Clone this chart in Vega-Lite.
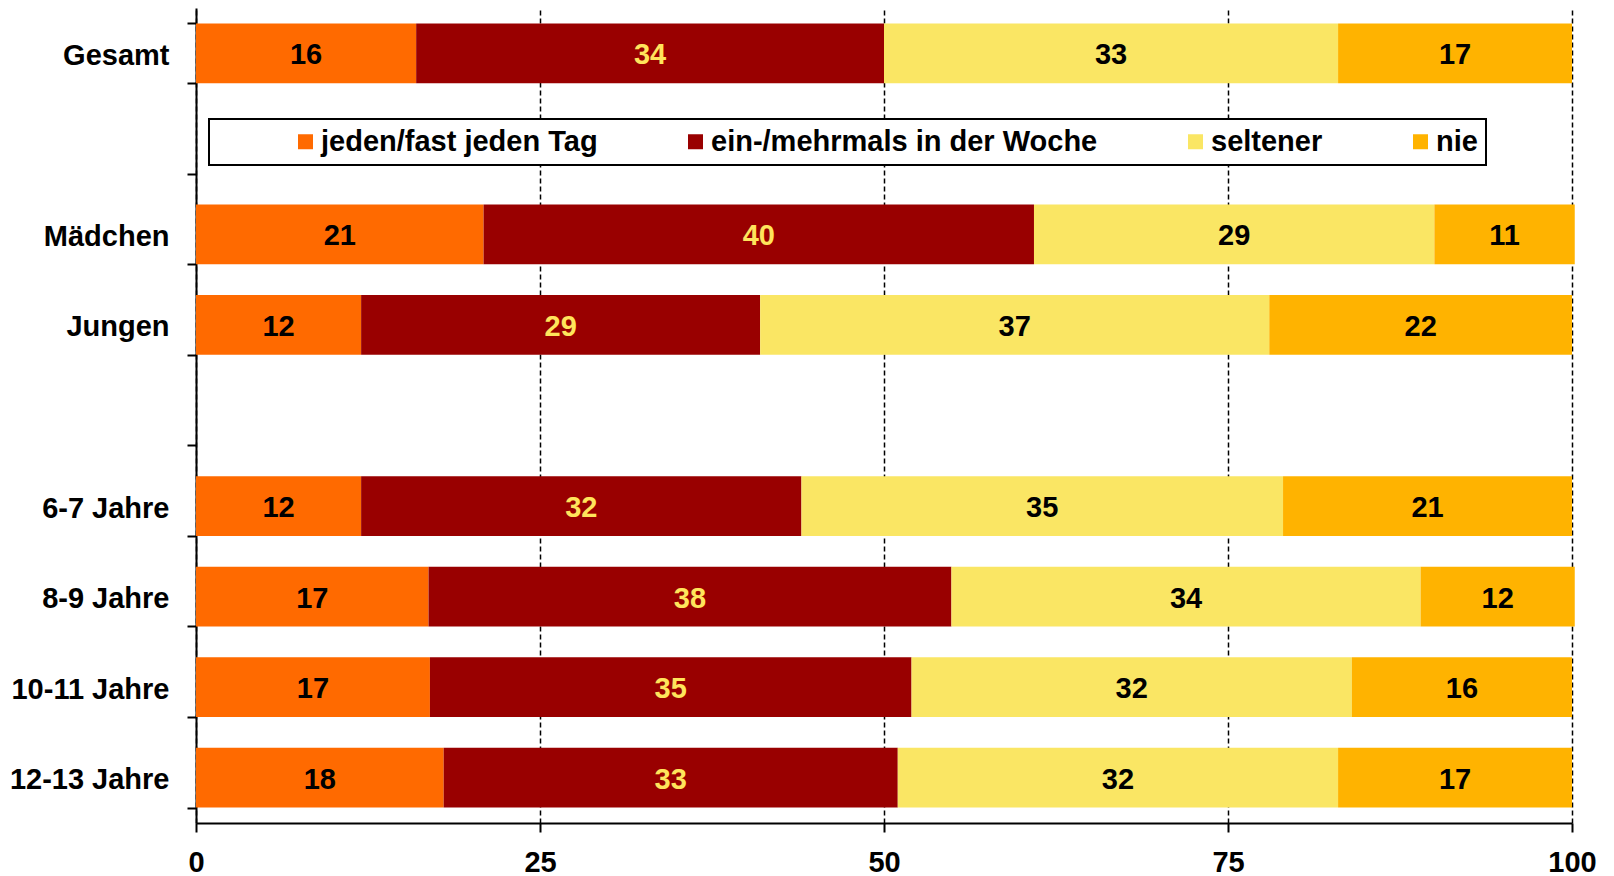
{
  "$schema": "https://vega.github.io/schema/vega-lite/v6.json",
  "width": 1376,
  "height": 815,
  "autosize": {"type": "none"},
  "padding": {"left": 196, "top": 8, "right": 42, "bottom": 53},
  "background": "white",
  "config": {
    "font": "Liberation Sans",
    "view": {"stroke": null},
    "axis": {
      "labelFont": "Liberation Sans",
      "labelFontWeight": "bold",
      "labelFontSize": 29,
      "labelColor": "black",
      "domainColor": "black",
      "domainWidth": 2,
      "tickColor": "black",
      "tickWidth": 2,
      "tickSize": 9,
      "title": null
    },
    "legend": {
      "strokeWidth": 2
    }
  },
  "datasets": {
    "antworten": [
      {"haeufigkeit": "jeden/fast jeden Tag", "rang": 1},
      {"haeufigkeit": "ein-/mehrmals in der Woche", "rang": 2},
      {"haeufigkeit": "seltener", "rang": 3},
      {"haeufigkeit": "nie", "rang": 4}
    ]
  },
  "data": {
    "values": [
      {"gruppe": "Gesamt", "haeufigkeit": "jeden/fast jeden Tag", "prozent": 16, "label": "16"},
      {"gruppe": "Gesamt", "haeufigkeit": "ein-/mehrmals in der Woche", "prozent": 34, "label": "34"},
      {"gruppe": "Gesamt", "haeufigkeit": "seltener", "prozent": 33, "label": "33"},
      {"gruppe": "Gesamt", "haeufigkeit": "nie", "prozent": 17, "label": "17"},
      {"gruppe": "Mädchen", "haeufigkeit": "jeden/fast jeden Tag", "prozent": 20.9, "label": "21"},
      {"gruppe": "Mädchen", "haeufigkeit": "ein-/mehrmals in der Woche", "prozent": 40, "label": "40"},
      {"gruppe": "Mädchen", "haeufigkeit": "seltener", "prozent": 29.1, "label": "29"},
      {"gruppe": "Mädchen", "haeufigkeit": "nie", "prozent": 10.2, "label": "11"},
      {"gruppe": "Jungen", "haeufigkeit": "jeden/fast jeden Tag", "prozent": 12, "label": "12"},
      {"gruppe": "Jungen", "haeufigkeit": "ein-/mehrmals in der Woche", "prozent": 29, "label": "29"},
      {"gruppe": "Jungen", "haeufigkeit": "seltener", "prozent": 37, "label": "37"},
      {"gruppe": "Jungen", "haeufigkeit": "nie", "prozent": 22, "label": "22"},
      {"gruppe": "6-7 Jahre", "haeufigkeit": "jeden/fast jeden Tag", "prozent": 12, "label": "12"},
      {"gruppe": "6-7 Jahre", "haeufigkeit": "ein-/mehrmals in der Woche", "prozent": 32, "label": "32"},
      {"gruppe": "6-7 Jahre", "haeufigkeit": "seltener", "prozent": 35, "label": "35"},
      {"gruppe": "6-7 Jahre", "haeufigkeit": "nie", "prozent": 21, "label": "21"},
      {"gruppe": "8-9 Jahre", "haeufigkeit": "jeden/fast jeden Tag", "prozent": 16.9, "label": "17"},
      {"gruppe": "8-9 Jahre", "haeufigkeit": "ein-/mehrmals in der Woche", "prozent": 38, "label": "38"},
      {"gruppe": "8-9 Jahre", "haeufigkeit": "seltener", "prozent": 34.1, "label": "34"},
      {"gruppe": "8-9 Jahre", "haeufigkeit": "nie", "prozent": 11.2, "label": "12"},
      {"gruppe": "10-11 Jahre", "haeufigkeit": "jeden/fast jeden Tag", "prozent": 17, "label": "17"},
      {"gruppe": "10-11 Jahre", "haeufigkeit": "ein-/mehrmals in der Woche", "prozent": 35, "label": "35"},
      {"gruppe": "10-11 Jahre", "haeufigkeit": "seltener", "prozent": 32, "label": "32"},
      {"gruppe": "10-11 Jahre", "haeufigkeit": "nie", "prozent": 16, "label": "16"},
      {"gruppe": "12-13 Jahre", "haeufigkeit": "jeden/fast jeden Tag", "prozent": 18, "label": "18"},
      {"gruppe": "12-13 Jahre", "haeufigkeit": "ein-/mehrmals in der Woche", "prozent": 33, "label": "33"},
      {"gruppe": "12-13 Jahre", "haeufigkeit": "seltener", "prozent": 32, "label": "32"},
      {"gruppe": "12-13 Jahre", "haeufigkeit": "nie", "prozent": 17, "label": "17"}
    ]
  },
  "transform": [
    {"lookup": "haeufigkeit", "from": {"data": {"name": "antworten"}, "key": "haeufigkeit", "fields": ["rang"]}}
  ],
  "encoding": {
    "y": {
      "field": "gruppe",
      "type": "nominal",
      "sort": null,
      "scale": {
        "domain": ["Gesamt", " ", "Mädchen", "Jungen", "  ", "6-7 Jahre", "8-9 Jahre", "10-11 Jahre", "12-13 Jahre"],
        "paddingInner": 0.34,
        "paddingOuter": 0.17
      },
      "axis": {
        "tickBand": "extent",
        "labelPadding": 18,
        "labelOffset": 2,
        "grid": false
      }
    },
    "x": {
      "field": "prozent",
      "type": "quantitative",
      "stack": "zero",
      "scale": {"domain": [0, 100], "nice": false},
      "axis": {
        "values": [0, 25, 50, 75, 100],
        "grid": true,
        "gridColor": "black",
        "gridDash": [5, 3],
        "gridWidth": 1.5,
        "labelPadding": 16,
        "labelFlush": false
      }
    },
    "order": {"field": "rang", "type": "quantitative", "sort": "ascending"}
  },
  "layer": [
    {
      "mark": {"type": "bar"},
      "encoding": {
        "color": {
          "field": "haeufigkeit",
          "type": "nominal",
          "scale": {
            "domain": ["jeden/fast jeden Tag", "ein-/mehrmals in der Woche", "seltener", "nie"],
            "range": ["#FF6A00", "#990000", "#FAE664", "#FFB300"]
          },
          "legend": {
            "title": " ",
            "titleOrient": "left",
            "titleFontSize": 1,
            "titlePadding": 74,
            "orient": "none",
            "legendX": 13,
            "legendY": 111,
            "direction": "horizontal",
            "columns": 4,
            "columnPadding": 83,
            "padding": 8,
            "strokeColor": "black",
            "fillColor": "white",
            "symbolType": "square",
            "symbolSize": 225,
            "symbolStrokeWidth": 0,
            "symbolOpacity": 1,
            "labelFont": "Liberation Sans",
            "labelFontSize": 29,
            "labelFontWeight": "bold",
            "labelColor": "black",
            "labelOffset": 1,
            "labelLimit": 0
          }
        }
      }
    },
    {
      "mark": {"type": "text", "font": "Liberation Sans", "fontSize": 29, "fontWeight": "bold", "baseline": "middle", "align": "center", "dy": 2},
      "encoding": {
        "x": {
          "field": "prozent",
          "type": "quantitative",
          "stack": "zero",
          "bandPosition": 0.5
        },
        "text": {"field": "label", "type": "nominal"},
        "color": {
          "field": "haeufigkeit",
          "type": "nominal",
          "scale": {
            "domain": ["jeden/fast jeden Tag", "ein-/mehrmals in der Woche", "seltener", "nie"],
            "range": ["#000000", "#FFE45C", "#000000", "#000000"]
          },
          "legend": null
        }
      }
    }
  ],
  "resolve": {"scale": {"color": "independent"}, "legend": {"color": "independent"}}
}
